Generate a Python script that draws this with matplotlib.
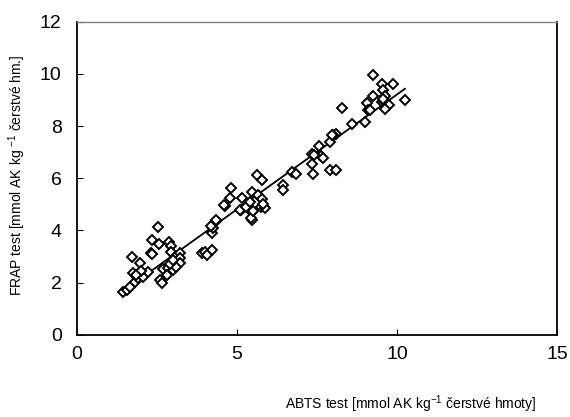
import numpy as np
import matplotlib
matplotlib.use("Agg")
import matplotlib.pyplot as plt

plt.rcParams['font.family'] = ['Liberation Sans', 'DejaVu Sans']
plt.rcParams['mathtext.fontset'] = 'custom'
plt.rcParams['mathtext.rm'] = 'Liberation Sans'
plt.rcParams['mathtext.it'] = 'Liberation Sans'
plt.rcParams['mathtext.bf'] = 'Liberation Sans'

abts = [1.45, 1.55, 1.66, 1.81, 1.76, 1.92, 1.90, 2.07, 2.23, 1.97, 1.71, 2.31, 2.36, 2.35, 2.56,
        2.54, 2.88, 2.94, 2.94, 3.06, 3.13, 2.68, 2.85, 2.99, 3.06, 3.22, 2.59, 2.65, 2.80, 3.22,
        3.22, 3.10, 2.90, 3.00, 2.00, 1.85,
        3.90, 4.00, 4.21, 4.05, 4.21, 4.24, 4.18, 4.36, 4.34, 4.63, 4.60, 4.80, 4.78, 5.17,
        5.48, 5.69, 5.13, 5.39, 5.46, 5.74, 5.88, 5.46, 5.63, 5.77, 5.09, 5.28, 5.43, 5.49,
        5.66, 5.77, 5.82, 5.41,
        6.43, 6.45, 6.71, 6.84, 7.36, 7.57, 7.64, 7.36, 7.38, 7.91, 8.11, 7.91, 8.11, 8.00,
        7.42, 7.70, 7.96,
        8.29, 8.61, 9.00, 9.05, 9.10, 9.16, 9.24, 9.26, 9.52, 9.87, 9.57, 9.63, 9.52, 9.60,
        9.76, 9.63, 10.25, 9.58]
frap = [1.66, 1.72, 1.85, 2.04, 2.38, 2.35, 2.16, 2.23, 2.42, 2.76, 2.99, 3.12, 3.08, 3.65, 3.50,
        4.14, 3.57, 3.41, 3.18, 2.99, 2.78, 2.51, 2.55, 2.48, 2.67, 3.12, 2.10, 1.98, 2.29, 2.95,
        2.75, 2.60, 2.70, 2.85, 2.45, 2.30,
        3.12, 3.18, 3.27, 3.06, 3.89, 4.11, 4.17, 4.36, 4.39, 4.93, 4.99, 5.63, 5.26, 5.26,
        5.48, 5.31, 4.80, 4.84, 4.72, 4.91, 4.87, 4.39, 6.11, 5.95, 4.78, 4.91, 4.46, 4.76,
        5.35, 5.22, 5.03, 5.10,
        5.73, 5.54, 6.24, 6.18, 6.94, 7.22, 6.84, 6.56, 6.18, 7.39, 7.68, 6.33, 6.33, 7.64,
        6.88, 6.79, 7.64,
        8.69, 8.08, 8.15, 8.88, 8.60, 8.60, 9.94, 9.17, 9.62, 9.62, 9.39, 9.17, 8.92, 8.95,
        8.79, 8.66, 9.00, 9.05]

x_ticks = [0, 5, 10, 15]
y_ticks = [0, 2, 4, 6, 8, 10, 12]

x = np.array(abts)
y = np.array(frap)
slope, intercept = np.polyfit(x, y, 1)
xl = np.array([x.min(), x.max()])

fig = plt.figure(figsize=(5.7, 4.17), dpi=100)
ax = fig.add_axes([0.135, 0.197, 0.842, 0.751])
ax.plot(xl, slope * xl + intercept, color='black', lw=1.3, zorder=2)
ax.plot(x, y, linestyle='none', marker='D', markersize=5, mfc='white', mec='black', mew=1.4, zorder=3)

ax.set_xlim(0, 15)
ax.set_ylim(0, 12)
ax.set_xticks(x_ticks)
ax.set_yticks(y_ticks)
ax.tick_params(direction='in', length=4, width=0.8, labelsize=14)
ax.tick_params(axis='y', pad=11)
ax.tick_params(axis='x', pad=8)
for s in ['left', 'bottom', 'right']:
    ax.spines[s].set_linewidth(1.3)
    ax.spines[s].set_color('black')
ax.spines['top'].set_linewidth(1.0)
ax.spines['top'].set_color('#808080')

fig.text(0.03, 0.58, 'FRAP test [mmol AK kg $^{-1}$ čerstvé hm.]', rotation=90,
         ha='center', va='center', fontsize=10)
fig.text(0.72, 0.03, 'ABTS test [mmol AK kg$^{-1}$ čerstvé hmoty]', ha='center', va='center', fontsize=10)

fig.savefig('out.png', dpi=100)
